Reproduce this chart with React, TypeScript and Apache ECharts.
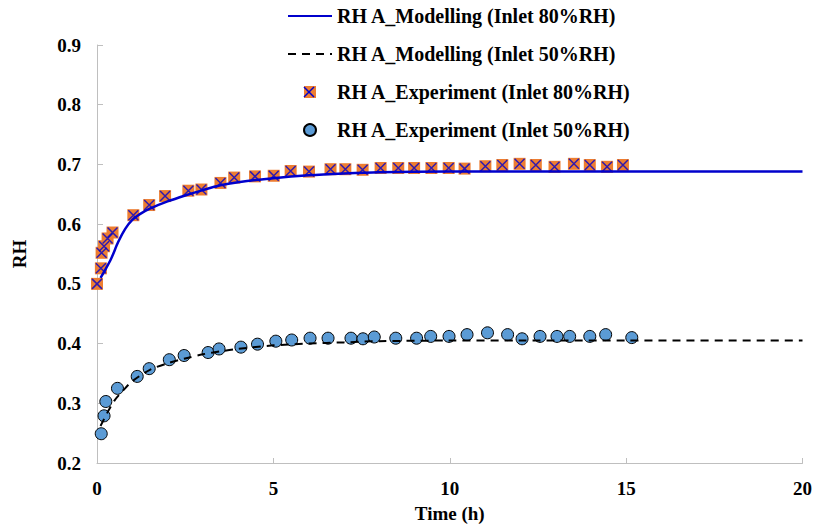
import React, { useEffect, useRef } from "react";
import * as echarts from "echarts";

const xTicks = [0, 5, 10, 15, 20];
const yTicks = [0.2, 0.3, 0.4, 0.5, 0.6, 0.7, 0.8, 0.9];

const nameModel80 = "RH A_Modelling (Inlet 80%RH)";
const nameModel50 = "RH A_Modelling (Inlet 50%RH)";
const nameExp80 = "RH A_Experiment (Inlet 80%RH)";
const nameExp50 = "RH A_Experiment (Inlet 50%RH)";

const model80: [number, number][] = [
  [0.1, 0.51], [0.2, 0.52], [0.4, 0.542], [0.6, 0.57], [0.8, 0.592], [1.0, 0.607],
  [1.25, 0.618], [1.5, 0.626], [2.0, 0.638], [2.5, 0.648], [3.0, 0.657], [3.5, 0.665],
  [4.0, 0.67], [5.0, 0.677], [6.0, 0.682], [7.0, 0.685], [8.0, 0.687], [10, 0.688],
  [12, 0.688], [15, 0.688], [20, 0.688],
];

const model50: [number, number][] = [
  [0.1, 0.262], [0.3, 0.285], [0.5, 0.305], [0.75, 0.322], [1.0, 0.337], [1.5, 0.356],
  [2.0, 0.367], [2.5, 0.375], [3.0, 0.382], [3.5, 0.387], [4.0, 0.391], [5.0, 0.397],
  [6.0, 0.4], [7.0, 0.402], [8.0, 0.404], [10, 0.405], [12, 0.405], [15, 0.405], [20, 0.405],
];

const exp80: [number, number][] = [
  [0, 0.5], [0.11, 0.526], [0.13, 0.552], [0.2, 0.563], [0.3, 0.576], [0.44, 0.586],
  [1.03, 0.615], [1.48, 0.632], [1.93, 0.647], [2.59, 0.656], [2.96, 0.658], [3.5, 0.669],
  [3.89, 0.678], [4.48, 0.68], [5.01, 0.681], [5.49, 0.689], [6.01, 0.688], [6.62, 0.692],
  [7.04, 0.692], [7.53, 0.691], [8.04, 0.694], [8.54, 0.694], [8.99, 0.694], [9.48, 0.694],
  [9.97, 0.694], [10.42, 0.693], [11.01, 0.697], [11.49, 0.699], [11.98, 0.701], [12.44, 0.699],
  [12.97, 0.696], [13.52, 0.701], [13.97, 0.699], [14.46, 0.696], [14.91, 0.699],
];

const exp50: [number, number][] = [
  [0.12, 0.249], [0.2, 0.279], [0.25, 0.303], [0.58, 0.325], [1.14, 0.345], [1.48, 0.358],
  [2.05, 0.373], [2.47, 0.38], [3.15, 0.385], [3.46, 0.391], [4.08, 0.394], [4.55, 0.399],
  [5.07, 0.404], [5.52, 0.406], [6.04, 0.409], [6.55, 0.409], [7.2, 0.409], [7.54, 0.408],
  [7.86, 0.411], [8.47, 0.409], [9.06, 0.409], [9.46, 0.412], [9.98, 0.412], [10.49, 0.415],
  [11.07, 0.418], [11.64, 0.415], [12.05, 0.408], [12.56, 0.412], [13.04, 0.412], [13.4, 0.412],
  [13.97, 0.412], [14.42, 0.415], [15.16, 0.41],
];

const FONT = "'Liberation Serif', 'Times New Roman', serif";
const BLUE = "#0000CC";
const ORANGE = "#ED7D31";
const LIGHTBLUE = "#5B9BD5";
const AXIS = "#BFBFBF";

export default function App() {
  const ref = useRef<HTMLDivElement>(null);
  useEffect(() => {
    document.body.style.margin = "0";
    if (!ref.current) return;
    const chart = echarts.init(ref.current, null, { renderer: "svg" });
    chart.setOption({
      animation: false,
      backgroundColor: "#ffffff",
      grid: { left: 97, right: 12, top: 45, bottom: 61, containLabel: false },
      legend: {
        orient: "vertical",
        left: 282,
        top: 1,
        itemWidth: 44,
        itemHeight: 12,
        itemGap: 18,
        textStyle: { fontFamily: FONT, fontWeight: "bold", fontSize: 20, color: "#000" },
        data: [
          { name: nameModel80, itemStyle: { opacity: 0 } },
          { name: nameModel50, itemStyle: { opacity: 0 } },
          { name: nameExp80, icon: "path://M0,0L10,0L10,10L0,10Z" },
          { name: nameExp50, icon: "circle" },
        ],
        selectedMode: false,
      },
      graphic: [
        { type: "line", z: 100, shape: { x1: 304, y1: 87, x2: 314, y2: 97 }, style: { stroke: BLUE, lineWidth: 1.5 } },
        { type: "line", z: 100, shape: { x1: 314, y1: 87, x2: 304, y2: 97 }, style: { stroke: BLUE, lineWidth: 1.5 } },
      ],
      xAxis: {
        type: "value",
        min: xTicks[0],
        max: xTicks[xTicks.length - 1],
        interval: 5,
        name: "Time (h)",
        nameLocation: "middle",
        nameGap: 41,
        nameTextStyle: { fontFamily: FONT, fontWeight: "bold", fontSize: 19, color: "#000" },
        axisLine: { lineStyle: { color: AXIS, width: 1 } },
        axisTick: { inside: true, length: 5, lineStyle: { color: AXIS } },
        axisLabel: { fontFamily: FONT, fontWeight: "bold", fontSize: 19, color: "#000", margin: 16 },
        splitLine: { show: false },
      },
      yAxis: {
        type: "value",
        min: yTicks[0],
        max: yTicks[yTicks.length - 1],
        interval: 0.1,
        name: "RH",
        nameLocation: "middle",
        nameGap: 68,
        nameTextStyle: { fontFamily: FONT, fontWeight: "bold", fontSize: 19, color: "#000" },
        axisLine: { show: true, lineStyle: { color: AXIS, width: 1 } },
        axisTick: { show: true, inside: true, length: 6, lineStyle: { color: AXIS } },
        axisLabel: {
          fontFamily: FONT, fontWeight: "bold", fontSize: 19, color: "#000", margin: 16,
          formatter: (v: number) => v.toFixed(1),
        },
        splitLine: { show: false },
      },
      series: [
        {
          name: nameModel80, type: "line", data: model80, showSymbol: false, smooth: 0.3,
          lineStyle: { color: BLUE, width: 2.5 }, itemStyle: { color: BLUE },
        },
        {
          name: nameModel50, type: "line", data: model50, showSymbol: false, smooth: 0.3,
          lineStyle: { color: "#000", width: 2, type: [8, 6] }, itemStyle: { color: "#000" },
        },
        {
          name: nameExp80, type: "scatter", data: exp80, symbol: "rect", symbolSize: 12,
          itemStyle: { color: ORANGE, opacity: 1 },
        },
        {
          name: "x-overlay", type: "scatter", data: exp80,
          symbol: "path://M0,0L10,10M10,0L0,10", symbolSize: 10,
          itemStyle: { color: "transparent", borderColor: BLUE, borderWidth: 1.5 },
          silent: true,
        },
        {
          name: nameExp50, type: "scatter", data: exp50, symbol: "circle", symbolSize: 12,
          itemStyle: { color: LIGHTBLUE, borderColor: "#000", borderWidth: 1, opacity: 1 },
        },
      ],
    });
    return () => chart.dispose();
  }, []);
  return <div ref={ref} style={{ width: 815, height: 528 }} />;
}
